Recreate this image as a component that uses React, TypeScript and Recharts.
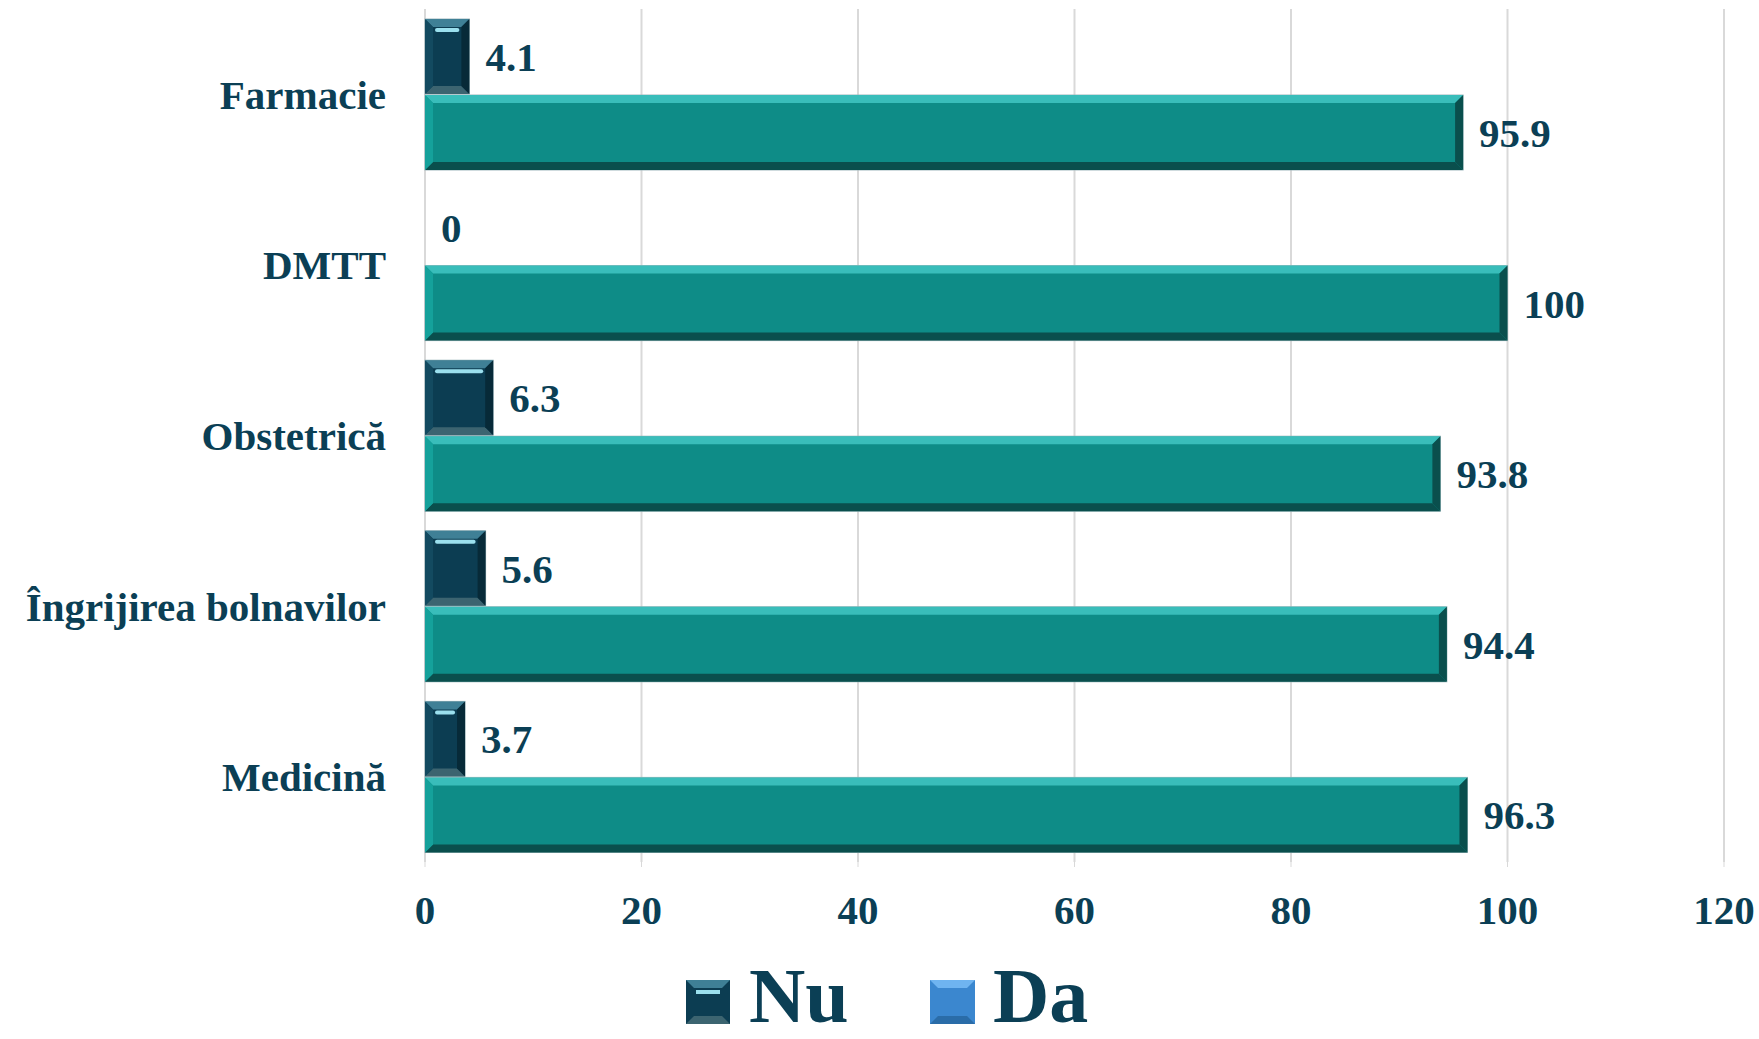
import React from "react";
import { BarChart, Bar, XAxis, YAxis, CartesianGrid, LabelList, Legend } from "recharts";

const categories = ["Farmacie", "DMTT", "Obstetrică", "Îngrijirea bolnavilor", "Medicină"];
const nuValues = [4.1, 0, 6.3, 5.6, 3.7];
const daValues = [95.9, 100, 93.8, 94.4, 96.3];
const xTicks = [0, 20, 40, 60, 80, 100, 120];
const legendNames = ["Nu", "Da"];

const data = categories.map((c, i) => ({ name: c, Nu: nuValues[i], Da: daValues[i] }));

const TEXT = "#0B3F55";
const FONT = "'Liberation Serif', 'Times New Roman', serif";

type Pal = { base: string; top: string; bottom: string; left: string; right: string; hi: string };
const nuPal: Pal = { base: "#0C3D52", top: "#3F8096", bottom: "#3C6470", left: "#134A60", right: "#072A38", hi: "#9BE0EE" };
const daPal: Pal = { base: "#0E8C87", top: "#39BDBA", bottom: "#0A4F4D", left: "#15A19B", right: "#0A4F4D", hi: "#39BDBA" };

function makeShape(p: Pal) {
  return (props: any) => {
    const { x, y, width, height } = props;
    if (!width || width <= 0 || !height) return <g />;
    const w = width, h = height;
    const b = Math.min(8, w / 3, h / 3);
    return (
      <g>
        <rect x={x} y={y} width={w} height={h} fill={p.base} stroke="#9fb8bd" strokeWidth={1} />
        <polygon points={`${x},${y} ${x + w},${y} ${x + w - b},${y + b} ${x + b},${y + b}`} fill={p.top} />
        <polygon points={`${x},${y + h} ${x + w},${y + h} ${x + w - b},${y + h - b} ${x + b},${y + h - b}`} fill={p.bottom} />
        <polygon points={`${x},${y} ${x + b},${y + b} ${x + b},${y + h - b} ${x},${y + h}`} fill={p.left} />
        <polygon points={`${x + w},${y} ${x + w - b},${y + b} ${x + w - b},${y + h - b} ${x + w},${y + h}`} fill={p.right} />
        {p === nuPal && w > 4 * b ? (
          <rect x={x + b + 2} y={y + b + 1} width={w - 2 * b - 4} height={4} rx={2} fill={p.hi} />
        ) : null}
      </g>
    );
  };
}

const LegendContent = () => (
  <svg width={420} height={88} style={{ display: "block" }}>
    <g>
      <rect x={0} y={29} width={44} height={44} fill={nuPal.base} />
      <polygon points="0,29 44,29 36,37 8,37" fill={nuPal.top} />
      <polygon points="0,73 44,73 36,65 8,65" fill={nuPal.bottom} />
      <rect x={10} y={39} width={24} height={4} fill={nuPal.hi} />
      <text x={63} y={71} fill={TEXT} fontSize={78} fontWeight="bold" fontFamily={FONT}>{legendNames[0]}</text>
    </g>
    <g>
      <rect x={244} y={29} width={45} height={44} fill="#3B87CF" />
      <polygon points="244,29 289,29 281,37 252,37" fill="#6FB4F0" />
      <polygon points="244,73 289,73 281,65 252,65" fill="#2A6CA8" />
      <text x={307} y={71} fill={TEXT} fontSize={78} fontWeight="bold" fontFamily={FONT}>{legendNames[1]}</text>
    </g>
  </svg>
);

export default function App() {
  return (
    <div style={{ position: "absolute", left: 0, top: 0, width: 1759, height: 1039, background: "#fff" }}>
      <BarChart
        width={1759}
        height={1039}
        data={data}
        layout="vertical"
        margin={{ top: 9, right: 35, left: 0, bottom: 29 }}
        barCategoryGap={10}
        barGap={1}
      >
        <CartesianGrid horizontal={false} vertical={true} stroke="#d9d9d9" strokeWidth={2} />
        <XAxis
          type="number"
          domain={[0, 120]}
          ticks={xTicks}
          axisLine={false}
          tickLine={{ stroke: "#d9d9d9" }}
          tickSize={5}
          tickMargin={28}
          height={60}
          interval={0}
          tick={{ fill: TEXT, fontSize: 41, fontWeight: "bold", fontFamily: FONT }}
        />
        <YAxis
          type="category"
          dataKey="name"
          width={425}
          axisLine={false}
          tickLine={false}
          tickSize={0}
          tickMargin={39}
          interval={0}
          tick={{ fill: TEXT, fontSize: 41, fontWeight: "bold", fontFamily: FONT }}
        />
        <Legend
          content={<LegendContent />}
          wrapperStyle={{ position: "absolute", left: 686, top: 951, width: 420, height: 88 }}
        />
        <Bar dataKey="Nu" fill={nuPal.base} shape={makeShape(nuPal)} isAnimationActive={false}>
          <LabelList dataKey="Nu" position="right" offset={16} fill={TEXT} fontSize={41} fontWeight="bold" fontFamily={FONT} />
        </Bar>
        <Bar dataKey="Da" fill={daPal.base} shape={makeShape(daPal)} isAnimationActive={false}>
          <LabelList dataKey="Da" position="right" offset={16} fill={TEXT} fontSize={41} fontWeight="bold" fontFamily={FONT} />
        </Bar>
      </BarChart>
    </div>
  );
}
